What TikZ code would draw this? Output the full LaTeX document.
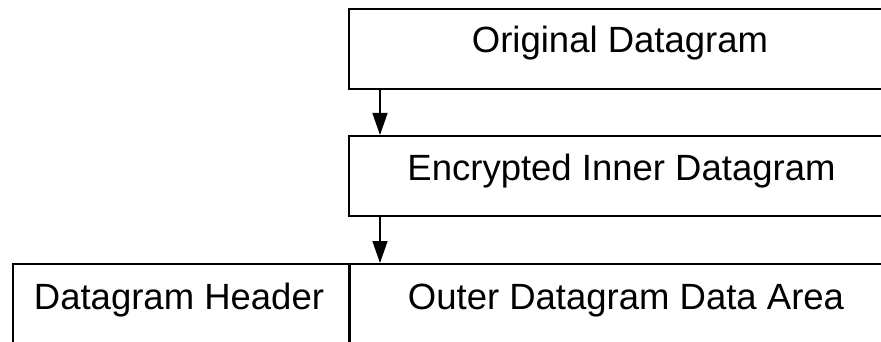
\documentclass[tikz,border=0pt]{standalone}
\usepackage{fontspec}
\setmainfont{Liberation Sans}
\usetikzlibrary{positioning,arrows.meta}

\tikzset{
  field/.style={draw, line width=2pt, rectangle, anchor=north west, inner sep=0pt},
  lowfield/.style={field, line width=1.5pt},
  label/.style={anchor=base, font=\fontsize{36.5}{44}\selectfont},
  flow/.style={line width=1.5pt, -{Triangle[length=22pt,width=15pt]}}
}

\begin{document}
\begin{tikzpicture}[x=1pt, y=-1pt]
        \useasboundingbox (0,0) rectangle (881,342);
        \clip (0,0) rectangle (881,342);

        \node [field, minimum width=660pt, minimum height=80pt] (orig) at (347.5,8) {};
        \node [field, minimum width=660pt, minimum height=80pt] (inner) at (347.5,135) {};
        \node [lowfield, minimum width=335.5pt, minimum height=120pt] (header) at (12,263) {};
        \node [lowfield, minimum width=660pt, minimum height=120pt, right=0pt of header.north east, anchor=north west] (outer) {};

        \node [label] (t1) at (620,53) {Original Datagram};
        \node [label] (t2) at (621.5,181) {Encrypted Inner Datagram};
        \node [label] (t3) at (179,309) {Datagram Header};
        \node [label] (t4) at (626,309) {Outer Datagram Data Area};

        \draw[flow] ([xshift=32.5pt]orig.south west) -- ([xshift=32.5pt]inner.north west);
        \draw[flow] ([xshift=32.5pt]inner.south west) -- (outer.north west -| 380,0);
      \end{tikzpicture}
\end{document}
